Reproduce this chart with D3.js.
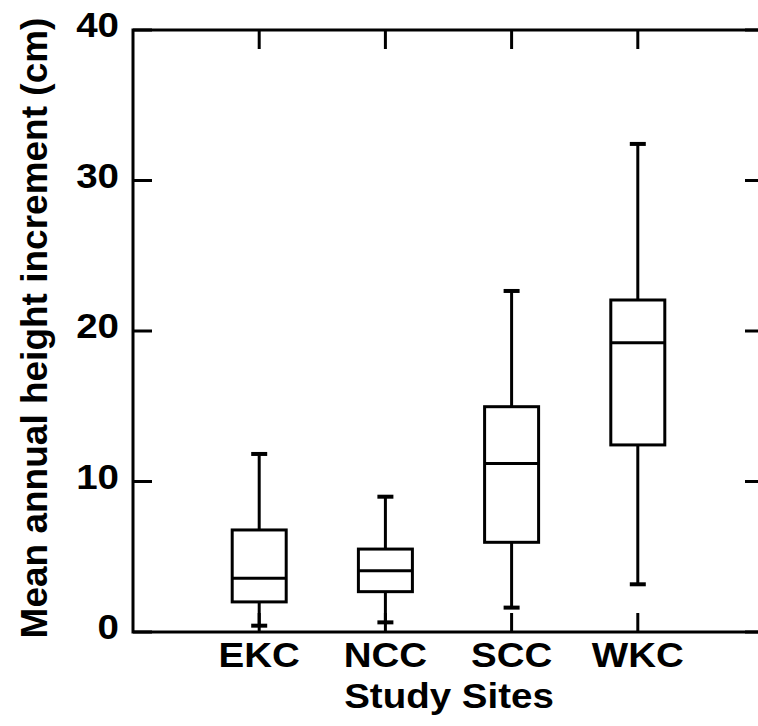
<!DOCTYPE html>
<html>
<head>
<meta charset="utf-8">
<script src="https://cdn.jsdelivr.net/npm/d3@7"></script>
<style>
  html, body { margin: 0; padding: 0; background: #fff; }
  svg { display: block; }
  text { font-family: "Liberation Sans", Arial, Helvetica, sans-serif; fill: #000; }
</style>
</head>
<body>
<div id="chart"></div>
<script>
// ---- data ----
const categories = ["EKC", "NCC", "SCC", "WKC"];
const whiskerLow  = [0.42, 0.64, 1.62, 3.17];
const q1          = [2.0, 2.68, 5.96, 12.43];
const median      = [3.57, 4.07, 11.2, 19.22];
const q3          = [6.78, 5.51, 14.97, 22.06];
const whiskerHigh = [11.83, 8.99, 22.66, 32.43];
const yTicks      = [0, 10, 20, 30, 40];
const yLabel = "Mean annual height increment (cm)";
const xLabel = "Study Sites";

// ---- layout ----
const W = 758, H = 726;
const mLeft = 133, mRight = 764, mTop = 30, mBottom = 632;
const stretch = 1.1; // glyphs in the reference are slightly wide

const svg = d3.select("#chart").append("svg")
  .attr("width", W).attr("height", H);

const x = d3.scaleLinear().domain([0, categories.length + 1]).range([mLeft, mRight]);
const y = d3.scaleLinear().domain([0, 40]).range([mBottom, mTop]);

const stroke = "#000", sw = 3;

// frame
svg.append("rect")
  .attr("x", mLeft).attr("y", mTop)
  .attr("width", mRight - mLeft).attr("height", mBottom - mTop)
  .attr("fill", "none").attr("stroke", stroke).attr("stroke-width", sw);

const tickLen = 19;
// left axis ticks (inward)
svg.append("g").selectAll("line").data(yTicks).join("line")
  .attr("x1", mLeft).attr("x2", mLeft + tickLen)
  .attr("y1", d => y(d)).attr("y2", d => y(d))
  .attr("stroke", stroke).attr("stroke-width", sw);
// right axis ticks (inward)
svg.append("g").selectAll("line").data(yTicks).join("line")
  .attr("x1", mRight - tickLen).attr("x2", mRight)
  .attr("y1", d => y(d)).attr("y2", d => y(d))
  .attr("stroke", stroke).attr("stroke-width", sw);
// top ticks (inward)
svg.append("g").selectAll("line").data(categories).join("line")
  .attr("x1", (d, i) => x(i + 1)).attr("x2", (d, i) => x(i + 1))
  .attr("y1", mTop).attr("y2", mTop + tickLen)
  .attr("stroke", stroke).attr("stroke-width", sw);
// bottom ticks (inward)
svg.append("g").selectAll("line").data(categories).join("line")
  .attr("x1", (d, i) => x(i + 1)).attr("x2", (d, i) => x(i + 1))
  .attr("y1", mBottom).attr("y2", mBottom - tickLen)
  .attr("stroke", stroke).attr("stroke-width", sw);

// y tick labels
svg.append("g").selectAll("text").data(yTicks).join("text")
  .attr("transform", d => `translate(119,${y(d) + 7}) scale(${stretch},1)`)
  .attr("text-anchor", "end")
  .style("font-size", "35px").style("font-weight", "bold")
  .text(d => d);

// category labels
svg.append("g").selectAll("text").data(categories).join("text")
  .attr("transform", (d, i) => `translate(${x(i + 1)},${mBottom + 35}) scale(${stretch},1)`)
  .attr("text-anchor", "middle")
  .style("font-size", "35px").style("font-weight", "bold")
  .text(d => d);

// x title
svg.append("text")
  .attr("transform", `translate(449,708) scale(${stretch},1)`)
  .attr("text-anchor", "middle")
  .style("font-size", "35px").style("font-weight", "bold")
  .text(xLabel);

// y title
svg.append("text")
  .attr("transform", "translate(47,328) rotate(-90)")
  .attr("text-anchor", "middle")
  .style("font-size", "37px").style("font-weight", "bold")
  .text(yLabel);

// boxes
const boxHalf = 27, capHalf = 8;
const rows = categories.map((c, i) => ({
  c, i, lo: whiskerLow[i], q1: q1[i], med: median[i], q3: q3[i], hi: whiskerHigh[i]
}));
const g = svg.append("g");
const bx = g.selectAll("g.box").data(rows).join("g").attr("class", "box");
// whiskers
bx.append("line")
  .attr("x1", d => x(d.i + 1)).attr("x2", d => x(d.i + 1))
  .attr("y1", d => y(d.q3)).attr("y2", d => y(d.hi))
  .attr("stroke", stroke).attr("stroke-width", sw);
bx.append("line")
  .attr("x1", d => x(d.i + 1)).attr("x2", d => x(d.i + 1))
  .attr("y1", d => y(d.q1)).attr("y2", d => y(d.lo))
  .attr("stroke", stroke).attr("stroke-width", sw);
// caps
bx.append("line")
  .attr("x1", d => x(d.i + 1) - capHalf).attr("x2", d => x(d.i + 1) + capHalf)
  .attr("y1", d => y(d.hi)).attr("y2", d => y(d.hi))
  .attr("stroke", stroke).attr("stroke-width", 4);
bx.append("line")
  .attr("x1", d => x(d.i + 1) - capHalf).attr("x2", d => x(d.i + 1) + capHalf)
  .attr("y1", d => y(d.lo)).attr("y2", d => y(d.lo))
  .attr("stroke", stroke).attr("stroke-width", 4);
// box
bx.append("rect")
  .attr("x", d => x(d.i + 1) - boxHalf)
  .attr("y", d => y(d.q3))
  .attr("width", boxHalf * 2)
  .attr("height", d => y(d.q1) - y(d.q3))
  .attr("fill", "#fff").attr("stroke", stroke).attr("stroke-width", sw);
// median
bx.append("line")
  .attr("x1", d => x(d.i + 1) - boxHalf).attr("x2", d => x(d.i + 1) + boxHalf)
  .attr("y1", d => y(d.med)).attr("y2", d => y(d.med))
  .attr("stroke", stroke).attr("stroke-width", sw);
</script>
</body>
</html>
